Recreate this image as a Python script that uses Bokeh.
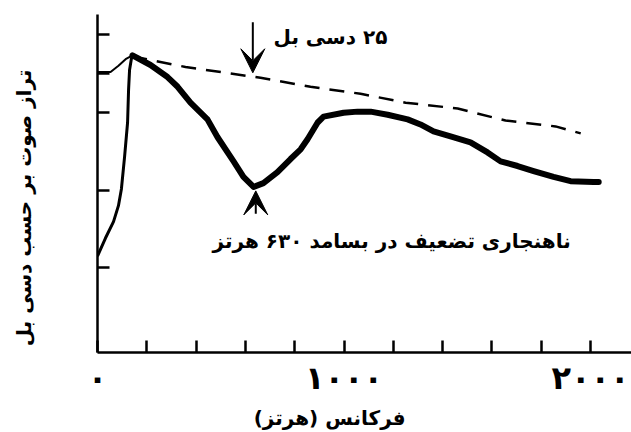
from bokeh.plotting import figure
from bokeh.models import Range1d, FixedTicker, Label, Arrow, VeeHead
from bokeh.embed import file_html
from bokeh.resources import INLINE

# ---- data (frequency in Hz, level in dB) ----
freq_main = [142, 215, 284, 325, 377, 446, 487, 552, 592, 633, 673, 730, 783, 824, 852,
             893, 917, 998, 1055, 1108, 1177, 1258, 1310, 1363, 1432, 1513, 1582, 1635,
             1704, 1769, 1850, 1919, 2012, 2033]
level_main = [74.7, 72.2, 69.1, 66.6, 62.5, 58.2, 53.6, 47.4, 43.4, 40.8, 41.8, 44.6, 48.0,
              50.5, 53.1, 57.4, 58.9, 59.9, 60.2, 60.2, 59.4, 58.2, 56.9, 55.1, 53.8, 52.3,
              49.7, 47.4, 46.2, 44.9, 43.4, 42.3, 42.1, 42.1]

freq_rise = [0, 32, 65, 85, 97, 110, 122, 126, 130, 138, 146]
level_rise = [23.0, 27.6, 31.9, 36.0, 40.3, 48.7, 57.4, 65.8, 70.9, 74.0, 74.7]

freq_shoulder = [0, 53, 85, 114, 142]
level_shoulder = [70.4, 70.4, 72.0, 73.7, 74.7]

freq_ref = [142, 174, 357, 661, 864, 1067, 1250, 1461, 1655, 1858, 1960]
level_ref = [74.7, 74.0, 71.7, 68.9, 66.6, 64.8, 62.5, 61.0, 57.9, 56.4, 54.6]

x_label_ticks = [0, 1000, 2000]
x_minor_ticks = [200, 400, 600, 800, 1200, 1400, 1600, 1800]
x_tick_labels = {0: "۰", 1000: "۱۰۰۰", 2000: "۲۰۰۰"}
y_ticks = [20, 40, 60, 70, 80]

dip_freq = 630
arrow_top_db = [83.2, 70.2]
arrow_bottom_db = [33.9, 39.8]

FONT = "DejaVu Sans"
RLE, PDF, NBSP = "\u202B", "\u202C", "\u00A0"


def rtl(s, pad=0):
    # pad: non-breaking spaces at the start (visual right / top) to shift the text
    return RLE + NBSP * pad + s + PDF


p = figure(width=631, height=432, output_backend="svg", toolbar_location=None,
           x_range=Range1d(0, 2166), y_range=Range1d(-1.8, 85.2),
           min_border_left=97, min_border_right=0, min_border_top=14, min_border_bottom=77)
p.outline_line_color = None
p.grid.visible = False
p.background_fill_color = "white"
p.border_fill_color = "white"

for ax in (p.xaxis[0], p.yaxis[0]):
    ax.axis_line_width = 2.5
    ax.axis_line_color = "black"
    ax.major_tick_in = 12
    ax.major_tick_out = 0
    ax.major_tick_line_width = 2.5
    ax.major_tick_line_color = "black"
    ax.minor_tick_in = 12
    ax.minor_tick_out = 0
    ax.minor_tick_line_width = 2.5
    ax.minor_tick_line_color = "black"
    ax.axis_label_text_font = FONT
    ax.axis_label_text_font_style = "bold"
    ax.axis_label_text_font_size = "20px"
    ax.axis_label_text_color = "black"

p.xaxis.ticker = FixedTicker(ticks=x_label_ticks, minor_ticks=x_minor_ticks)
p.xaxis.major_label_overrides = x_tick_labels
p.xaxis.major_label_text_font = FONT
p.xaxis.major_label_text_font_style = "bold"
p.xaxis.major_label_text_font_size = "32px"
p.xaxis.major_label_text_color = "black"
p.xaxis.major_label_standoff = 6
p.xaxis.axis_label = rtl("فرکانس (هرتز)", pad=10)
p.xaxis.axis_label_standoff = 6

p.yaxis.ticker = FixedTicker(ticks=[], minor_ticks=y_ticks)
p.yaxis.major_label_standoff = 0
p.yaxis.axis_label = rtl("تراز صوت بر حسب دسی بل", pad=7)
p.yaxis.axis_label_standoff = 62

# curves
p.line(freq_shoulder, level_shoulder, line_color="black", line_width=2)
p.line(freq_rise, level_rise, line_color="black", line_width=3, line_join="round")
p.line(freq_ref, level_ref, line_color="black", line_width=2.5, line_dash="15 10")
p.line(freq_main, level_main, line_color="black", line_width=6, line_join="round", line_cap="round")

# arrows
p.add_layout(Arrow(end=VeeHead(size=24, fill_color="black", line_color="black"),
                   x_start=dip_freq, y_start=arrow_top_db[0], x_end=dip_freq, y_end=arrow_top_db[1],
                   line_width=2, line_color="black"))
p.add_layout(Arrow(end=VeeHead(size=24, fill_color="black", line_color="black"),
                   x_start=dip_freq + 12, y_start=arrow_bottom_db[0], x_end=dip_freq + 12, y_end=arrow_bottom_db[1],
                   line_width=2, line_color="black"))


# in-plot texts
def lab(x, y, t, size):
    p.add_layout(Label(x=x, y=y, text=rtl(t), text_font=FONT, text_font_style="bold",
                       text_font_size=size, text_color="black", text_align="center",
                       text_baseline="middle"))


lab(945, 79.3, "۲۵ دسی بل", "20px")
lab(1193, 27.0, "ناهنجاری تضعیف در بسامد ۶۳۰ هرتز", "20px")

open("out.html", "w").write(file_html(p, INLINE))
